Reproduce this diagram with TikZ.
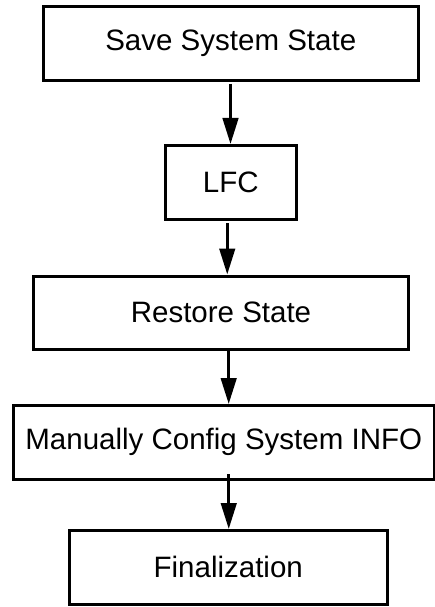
\documentclass[tikz,border=0pt]{standalone}
\usepackage{fontspec}
\setmainfont{Liberation Sans}
\usetikzlibrary{arrows.meta}
\begin{document}
\begin{tikzpicture}[x=1pt,y=-1pt,
  box/.style={draw,line width=3pt,inner sep=0pt,minimum height=73.5pt,font=\fontsize{29.5}{34}\selectfont},
  arr/.style={line width=3pt,-{Triangle[length=26pt,width=15.5pt]}}]
\useasboundingbox (0,0) rectangle (435,607);
\node[box,minimum width=374.5pt] (b1) at (230.75,43.75) {Save System State};
\node[box,minimum width=130.5pt,minimum height=74pt] (b2) at (230.75,182.5) {LFC};
\node[box,minimum width=375pt] (b3) at (221,312.75) {Restore State};
\node[box,minimum width=420.5pt] (b4) at (223.75,442.25) {Manually Config System INFO};
\node[box,minimum width=317.5pt] (b5) at (228.25,567.25) {Finalization};
\coordinate (s1) at ([xshift=-0.25pt,yshift=-2pt]b1.south);
\coordinate (s2) at ([xshift=-3.5pt,yshift=-2pt]b2.south);
\coordinate (s3) at ([xshift=7.7pt,yshift=3pt]b3.south);
\coordinate (s4) at ([xshift=5pt,yshift=6.5pt]b4.south);
\draw[arr] (s1) -- (s1 |- b2.north);
\draw[arr] (s2) -- (s2 |- b3.north);
\draw[arr] (s3) -- (s3 |- b4.north);
\draw[arr] (s4) -- (s4 |- b5.north);
\end{tikzpicture}
\end{document}
